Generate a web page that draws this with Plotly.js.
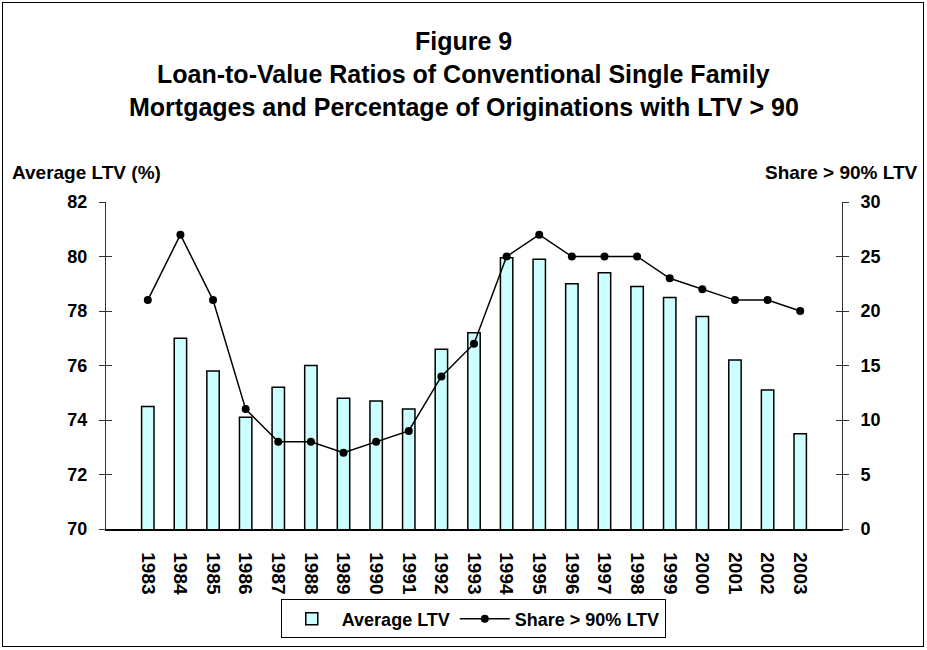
<!DOCTYPE html>
<html>
<head>
<meta charset="utf-8">
<script src="https://cdn.plot.ly/plotly-3.0.1.min.js"></script>
<style>
html,body{margin:0;padding:0;background:#fff;}
#wrap{position:relative;width:927px;height:650px;}
#chart{position:absolute;left:0;top:0;width:927px;height:650px;}
#frame{position:absolute;left:2px;top:2px;width:922px;height:645px;box-sizing:border-box;border:1px solid #000;pointer-events:none;}
</style>
</head>
<body>
<div id="wrap"><div id="chart"></div><div id="frame"></div></div>
<script>
var years = ["1983","1984","1985","1986","1987","1988","1989","1990","1991","1992","1993","1994","1995","1996","1997","1998","1999","2000","2001","2002","2003"];
var avgLTV = [74.5,77.0,75.8,74.1,75.2,76.0,74.8,74.7,74.4,76.6,77.2,79.95,79.9,79.0,79.4,78.9,78.5,77.8,76.2,75.1,73.5];
var shareOver90 = [21,27,21,11,8,8,7,8,9,14,17,25,27,25,25,25,23,22,21,21,20];
var leftTicks = [70,72,74,76,78,80,82];
var rightTicks = [0,5,10,15,20,25,30];

var FONT = "Liberation Sans, Arial, sans-serif";
var tf = {family: FONT, size: 18, color: "#000", weight: 700};
var xf = {family: FONT, size: 19, color: "#000", weight: 700};

var traces = [
  {type: "bar", name: "Average LTV", x: years, y: avgLTV, yaxis: "y",
   marker: {color: "#ccffff", line: {color: "#000", width: 1.5}}},
  {type: "scatter", mode: "lines+markers", name: "Share > 90% LTV", x: years, y: shareOver90, yaxis: "y2",
   line: {color: "#000", width: 1.5}, marker: {color: "#000", size: 8}},
  {type: "scatter", mode: "none", x: years, y: avgLTV, yaxis: "y3", showlegend: false, hoverinfo: "skip"},
  {type: "scatter", mode: "none", x: years, y: shareOver90, yaxis: "y4", showlegend: false, hoverinfo: "skip"}
];

var layout = {
  width: 927, height: 650,
  margin: {l: 106, r: 85, t: 202, b: 119},
  paper_bgcolor: "#fff", plot_bgcolor: "#fff",
  showlegend: true,
  bargap: 0.62,
  font: {family: FONT, color: "#000"},
  xaxis: {type: "category", categoryarray: years, tickangle: 90, showgrid: false, zeroline: false,
          showline: true, linecolor: "#000", linewidth: 1.5, ticks: "",
          tickfont: xf, ticklabelstandoff: 18, fixedrange: true},
  yaxis: {range: [70, 82], tickvals: leftTicks, showgrid: false, zeroline: false,
          showline: true, linecolor: "#333", linewidth: 1, ticks: "outside", ticklen: 6,
          tickcolor: "#333", tickfont: tf, ticklabelstandoff: 8},
  yaxis2: {range: [0, 30], tickvals: rightTicks, overlaying: "y", side: "right", showgrid: false,
          zeroline: false, showline: true, linecolor: "#333", linewidth: 1, ticks: "outside",
          ticklen: 6, tickcolor: "#333", tickfont: tf, ticklabelstandoff: 8},
  yaxis3: {range: [70, 82], tickvals: leftTicks, overlaying: "y", side: "left", showgrid: false,
          zeroline: false, showline: false, ticks: "inside", ticklen: 6, tickcolor: "#333",
          showticklabels: false},
  yaxis4: {range: [0, 30], tickvals: rightTicks, overlaying: "y", side: "right", showgrid: false,
          zeroline: false, showline: false, ticks: "inside", ticklen: 6, tickcolor: "#333",
          showticklabels: false},
  legend: {orientation: "h", x: 0.499, xanchor: "center", y: (531-621.5)/329, yanchor: "middle",
           bordercolor: "#000", borderwidth: 1, bgcolor: "#fff", itemwidth: 50,
           font: {family: FONT, size: 18, color: "#000", weight: 700}, traceorder: "normal"},
  annotations: [
    {text: "Figure 9", xref: "paper", yref: "paper", x: 0.486, y: (531-40)/329, xanchor: "center", yanchor: "middle", showarrow: false,
     font: {family: FONT, size: 25, color: "#000", weight: 700}},
    {text: "Loan-to-Value Ratios of Conventional Single Family", xref: "paper", yref: "paper", x: 0.486, y: (531-73)/329, xanchor: "center", yanchor: "middle", showarrow: false,
     font: {family: FONT, size: 25, color: "#000", weight: 700}},
    {text: "Mortgages and Percentage of Originations with LTV > 90", xref: "paper", yref: "paper", x: 0.486, y: (531-106)/329, xanchor: "center", yanchor: "middle", showarrow: false,
     font: {family: FONT, size: 25, color: "#000", weight: 700}},
    {text: "Average LTV (%)", xref: "paper", yref: "paper", x: (10-106)/736, y: (531-172)/329, xanchor: "left", yanchor: "middle", showarrow: false,
     font: {family: FONT, size: 19, color: "#000", weight: 700}},
    {text: "Share > 90% LTV", xref: "paper", yref: "paper", x: (920-106)/736, y: (531-172)/329, xanchor: "right", yanchor: "middle", showarrow: false,
     font: {family: FONT, size: 19, color: "#000", weight: 700}}
  ]
};

Plotly.newPlot("chart", traces, layout, {displayModeBar: false, staticPlot: true});
</script>
</body>
</html>
